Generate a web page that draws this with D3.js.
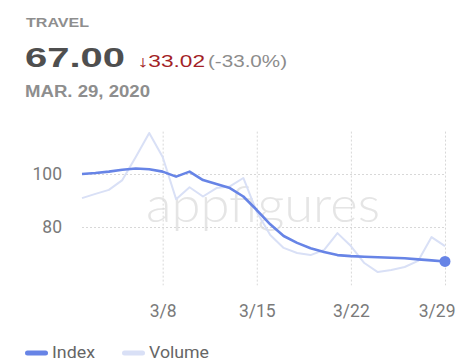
<!DOCTYPE html>
<html>
<head>
<meta charset="utf-8">
<script src="https://cdn.jsdelivr.net/npm/d3@7"></script>
<style>
  html, body { margin: 0; padding: 0; background: #fff; }
  svg { display: block; font-family: Roboto, "Liberation Sans", Arial, sans-serif; }
</style>
</head>
<body>
<svg id="chart" width="456" height="361"></svg>
<script>
// Daily values, 2 Mar – 29 Mar 2020
const days = d3.range(2, 30).map(d => new Date(2020, 2, d));
const indexValues = [
  100.02, 100.4, 100.9, 101.6, 102.1, 101.8, 100.9, 99.0, 100.9, 97.7,
  96.2, 94.7, 91.5, 86.4, 81.0, 76.6, 74.0, 72.0, 70.6, 69.4,
  69.0, 68.8, 68.6, 68.4, 68.2, 67.8, 67.4, 67.0
];
const volumeValues = [
  90.9, 92.5, 94.0, 97.7, 106.4, 115.5, 106.4, 90.5, 95.0, 91.5,
  94.7, 95.3, 98.5, 85.7, 77.0, 72.1, 70.2, 69.4, 71.3, 77.7,
  72.8, 66.4, 63.0, 63.8, 64.9, 67.2, 76.2, 72.8
];
const yTicks = [80, 100];
const xTicks = [8, 15, 22, 29].map(d => new Date(2020, 2, d));
const category = "TRAVEL";
const dateLabel = "MAR. 29, 2020";

const indexColor = "#6784e6";
const volumeColor = "#d9e0f6";
const headFont = "'Liberation Sans', Arial, Helvetica, sans-serif";

const svg = d3.select("#chart");

const x = d3.scaleTime().domain([days[0], days[days.length - 1]]).range([82, 445]);
const y = d3.scaleLinear().domain([58, 116]).range([285.3, 131.6]);

// Header
const last = indexValues[indexValues.length - 1];
const first = indexValues[0];
const change = last - first;
function headText(px, py, size, weight, color, width, str) {
  return svg.append("text").attr("x", px).attr("y", py)
    .attr("font-family", headFont).attr("font-size", size)
    .attr("font-weight", weight).attr("fill", color)
    .attr("textLength", width).attr("lengthAdjust", "spacingAndGlyphs")
    .text(str);
}
headText(26, 27, 13, 700, "#8e8e8e", 63, category);
headText(25, 67, 28, 700, "#4f4f4f", 100, last.toFixed(2));
headText(137, 67, 16, 400, "#a31f27", 68, "\u2193" + Math.abs(change).toFixed(2));
headText(208, 67, 16, 400, "#8c8c8c", 79, "(" + (change / first * 100).toFixed(1) + "%)");
headText(25, 97, 16, 700, "#8e8e8e", 125, dateLabel);

// Watermark
svg.append("text").attr("x", 146).attr("y", 222)
  .attr("font-family", "Lato, 'Open Sans', sans-serif").attr("font-weight", 300)
  .attr("font-size", 50).attr("fill", "#e5e5e5")
  .attr("textLength", 234).attr("lengthAdjust", "spacingAndGlyphs")
  .text("appfigures");

// Gridlines
const grid = svg.append("g").attr("stroke", "#d8d8d8").attr("stroke-width", 1)
  .attr("stroke-dasharray", "2,2");
grid.selectAll("line.v").data(xTicks).join("line").attr("class", "v")
  .attr("x1", d => x(d) + 0.5).attr("x2", d => x(d) + 0.5)
  .attr("y1", y.range()[1]).attr("y2", y.range()[0]);
grid.selectAll("line.h").data(yTicks).join("line").attr("class", "h")
  .attr("x1", x.range()[0]).attr("x2", x.range()[1])
  .attr("y1", d => Math.round(y(d)) + 0.5).attr("y2", d => Math.round(y(d)) + 0.5);

// Axes
const yAxis = svg.append("g").attr("transform", "translate(62,0)")
  .call(d3.axisLeft(y).tickValues(yTicks).tickSize(0).tickPadding(0));
const xAxis = svg.append("g").attr("transform", "translate(0,317)")
  .call(d3.axisBottom(x).tickValues(xTicks).tickSize(0).tickPadding(0)
    .tickFormat(d3.timeFormat("%-m/%-d")));
[yAxis, xAxis].forEach(a => {
  a.select(".domain").remove();
  a.selectAll("text").attr("fill", "#7a7a7a").attr("font-size", 17.5)
    .attr("font-family", "Roboto, 'Liberation Sans', Arial, sans-serif");
});
xAxis.selectAll("text").attr("dy", 0);
// keep the last date label inside the right edge
xAxis.selectAll(".tick").filter((d, i, n) => i === n.length - 1).select("text")
  .attr("text-anchor", "end").attr("x", 455 - x(xTicks[xTicks.length - 1]));

// Series
const line = d3.line().x((d, i) => x(days[i])).y(d => y(d));
svg.append("path").datum(volumeValues).attr("d", line)
  .attr("fill", "none").attr("stroke", volumeColor).attr("stroke-width", 2)
  .attr("stroke-linejoin", "round");
svg.append("path").datum(indexValues).attr("d", line)
  .attr("fill", "none").attr("stroke", indexColor).attr("stroke-width", 2.6)
  .attr("stroke-linejoin", "round");
svg.append("circle")
  .attr("cx", x(days[days.length - 1])).attr("cy", y(last)).attr("r", 5.5)
  .attr("fill", indexColor);

// Legend
const legend = svg.append("g").attr("transform", "translate(25,353)");
const items = [
  { name: "Index", color: indexColor, x: 0, w: 43 },
  { name: "Volume", color: volumeColor, x: 97, w: 60 }
];
items.forEach(it => {
  legend.append("rect").attr("x", it.x).attr("y", -2.5).attr("width", 23).attr("height", 5)
    .attr("rx", 2.5).attr("fill", it.color);
  legend.append("text").attr("x", it.x + 27).attr("y", 4.5)
    .attr("font-size", 16.5).attr("fill", "#666")
    .attr("font-family", "Roboto, 'Liberation Sans', Arial, sans-serif")
    .attr("textLength", it.w).attr("lengthAdjust", "spacingAndGlyphs")
    .text(it.name);
});
</script>
</body>
</html>
